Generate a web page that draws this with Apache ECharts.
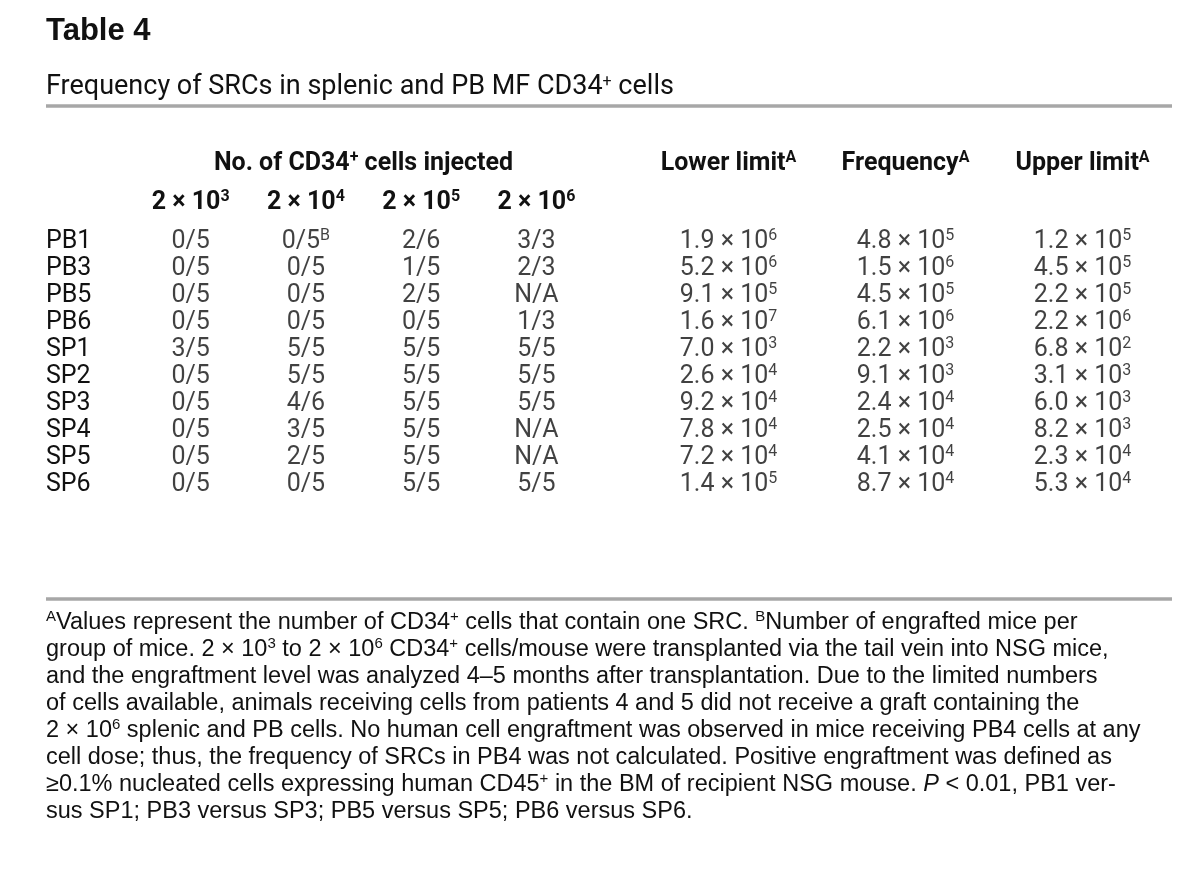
<!DOCTYPE html>
<html><head><meta charset="utf-8">
<script src="https://cdn.jsdelivr.net/npm/echarts@6/dist/echarts.min.js"></script>
<style>html,body{margin:0;padding:0;background:#fff}#c{width:1200px;height:888px}</style>
</head><body><div id="c"></div>
<script>
// ---------------- data ----------------
const rowLabels = ['PB1','PB3','PB5','PB6','SP1','SP2','SP3','SP4','SP5','SP6'];
const doseExponents = [3, 4, 5, 6];           // column headers: 2 × 10^n
const dose2e3 = ['0/5','0/5','0/5','0/5','3/5','0/5','0/5','0/5','0/5','0/5'];
const dose2e4 = ['0/5^B','0/5','0/5','0/5','5/5','5/5','4/6','3/5','2/5','0/5'];
const dose2e5 = ['2/6','1/5','2/5','0/5','5/5','5/5','5/5','5/5','5/5','5/5'];
const dose2e6 = ['3/3','2/3','N/A','1/3','5/5','5/5','5/5','N/A','N/A','5/5'];
const limitHeaders = ['Lower limit', 'Frequency', 'Upper limit'];
const lowerLimit = [1.9e6, 5.2e6, 9.1e5, 1.6e7, 7.0e3, 2.6e4, 9.2e4, 7.8e4, 7.2e4, 1.4e5];
const frequency  = [4.8e5, 1.5e6, 4.5e5, 6.1e6, 2.2e3, 9.1e3, 2.4e4, 2.5e4, 4.1e4, 8.7e4];
const upperLimit = [1.2e5, 4.5e5, 2.2e5, 2.2e6, 6.8e2, 3.1e3, 6.0e3, 8.2e3, 2.3e4, 5.3e4];

// ---------------- styles ----------------
const NARROW = 'Roboto,"Liberation Sans",sans-serif';
const REG = '"Liberation Sans",Arial,Helvetica,sans-serif';
const INK = '#111';
const FS = 25;
const richBody = {
  t: {fontFamily: NARROW, fontSize: FS, color: INK, lineHeight: 28},
  s: {fontFamily: NARROW, fontSize: 16, color: INK, lineHeight: 17, verticalAlign: 'top'}
};
const richHead = {
  b: {fontFamily: NARROW, fontSize: 25, fontWeight: 'bold', color: INK, lineHeight: 28},
  bs: {fontFamily: NARROW, fontSize: 16, fontWeight: 'bold', color: INK, lineHeight: 17, verticalAlign: 'top'}
};

function sci(v) {
  const e = Math.floor(Math.log10(v) + 1e-9);
  const m = v / Math.pow(10, e);
  return '{t|' + m.toFixed(1) + ' × 10}{s|' + e + '}';
}
function frac(s) {
  const p = String(s).split('^');
  return '{t|' + p[0] + '}' + (p[1] ? '{s|' + p[1] + '}' : '');
}

const doseCols = [dose2e3, dose2e4, dose2e5, dose2e6];
const limitCols = [lowerLimit, frequency, upperLimit];

const series = [];
doseCols.forEach((col, j) => {
  series.push({
    type: 'scatter', xAxisIndex: 0, yAxisIndex: 0, silent: true,
    symbolSize: 1, itemStyle: {color: 'transparent'},
    data: col.map((v, i) => [j, i, v]),
    label: {show: true, position: 'inside', formatter: p => frac(p.value[2]), rich: richBody}
  });
});
limitCols.forEach((col, k) => {
  series.push({
    type: 'scatter', xAxisIndex: 1, yAxisIndex: 1, silent: true,
    symbolSize: 1, itemStyle: {color: 'transparent'},
    data: col.map((v, i) => [k, i, v]),
    label: {show: true, position: 'inside', formatter: p => sci(p.value[2]), rich: richBody}
  });
});

const footRich = {
  s: {fontFamily: REG, fontSize: 15, color: INK, lineHeight: 15, verticalAlign: 'top'},
  i: {fontFamily: REG, fontSize: 23.5, fontStyle: 'italic', color: INK, lineHeight: 27}
};
const footnote = [
  '{s|A}Values represent the number of CD34{s|+} cells that contain one SRC. {s|B}Number of engrafted mice per',
  'group of mice. 2 × 10{s|3} to 2 × 10{s|6} CD34{s|+} cells/mouse were transplanted via the tail vein into NSG mice,',
  'and the engraftment level was analyzed 4–5 months after transplantation. Due to the limited numbers',
  'of cells available, animals receiving cells from patients 4 and 5 did not receive a graft containing the',
  '2 × 10{s|6} splenic and PB cells. No human cell engraftment was observed in mice receiving PB4 cells at any',
  'cell dose; thus, the frequency of SRCs in PB4 was not calculated. Positive engraftment was defined as',
  '≥0.1% nucleated cells expressing human CD45{s|+} in the BM of recipient NSG mouse. {i|P} < 0.01, PB1 ver-',
  'sus SP1; PB3 versus SP3; PB5 versus SP5; PB6 versus SP6.'
].join('\n');

const hidden = {show: false};
const option = {
  backgroundColor: '#fff',
  animation: false,
  title: {
    text: 'Table 4', left: 46, top: 16, padding: 0, itemGap: 27,
    textStyle: {fontFamily: REG, fontWeight: 'bold', fontSize: 31, color: INK},
    subtext: 'Frequency of SRCs in splenic and PB MF CD34{s|+} cells',
    subtextStyle: {fontFamily: NARROW, fontSize: 27, color: INK,
      rich: {s: {fontFamily: NARROW, fontSize: 16, color: INK, lineHeight: 16, verticalAlign: 'top'}}}
  },
  grid: [
    {left: 133, width: 461, top: 228, height: 270},
    {left: 640, width: 531, top: 228, height: 270}
  ],
  xAxis: [
    {gridIndex: 0, type: 'category', position: 'top', data: doseExponents,
      axisLine: hidden, axisTick: hidden, splitLine: hidden,
      axisLabel: {interval: 0, margin: 11, formatter: e => '{b|2 × 10}{bs|' + e + '}', rich: richHead},
      name: '{b|No. of CD34}{bs|+}{b| cells injected}', nameLocation: 'middle', nameGap: 50,
      nameTextStyle: {rich: richHead}},
    {gridIndex: 1, type: 'category', position: 'top', data: limitHeaders,
      axisLine: hidden, axisTick: hidden, splitLine: hidden,
      axisLabel: {interval: 0, margin: 50, formatter: h => '{b|' + h + '}{bs|A}', rich: richHead}}
  ],
  yAxis: [
    {gridIndex: 0, type: 'category', data: rowLabels, inverse: true,
      axisLine: hidden, axisTick: hidden, splitLine: hidden,
      axisLabel: {interval: 0, align: 'left', margin: 87, fontFamily: NARROW, fontSize: FS, color: INK}},
    {gridIndex: 1, type: 'category', data: rowLabels, inverse: true, show: false}
  ],
  series: series,
  graphic: [
    {type: 'line', silent: true, shape: {x1: 46, y1: 106, x2: 1172, y2: 106},
      style: {stroke: '#a7a7a7', lineWidth: 3.5}},
    {type: 'line', silent: true, shape: {x1: 46, y1: 599, x2: 1172, y2: 599},
      style: {stroke: '#a7a7a7', lineWidth: 3.5}},
    {type: 'text', silent: true, x: 46, y: 609,
      style: {text: footnote, fontFamily: REG, fontSize: 23.5, fill: INK, lineHeight: 27, rich: footRich}}
  ]
};
const chart = echarts.init(document.getElementById('c'), null, {renderer: 'canvas'});
chart.setOption(option);
</script>
</body></html>
